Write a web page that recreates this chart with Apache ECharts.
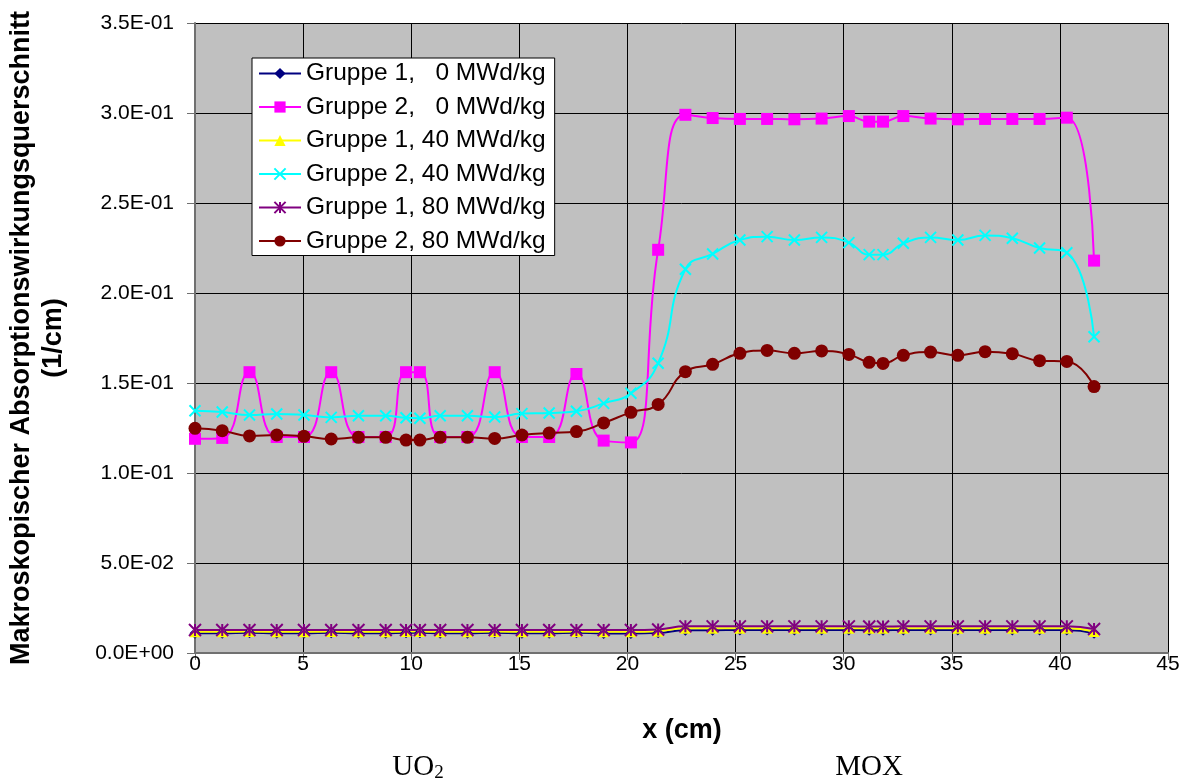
<!DOCTYPE html>
<html>
<head>
<meta charset="utf-8">
<script src="https://cdn.jsdelivr.net/npm/echarts@6/dist/echarts.min.js"></script>
<style>
html,body{margin:0;padding:0;background:#fff;}
#c{width:1193px;height:780px;}
</style>
</head>
<body>
<div id="c"></div>
<script>
// x positions (cm)
const xPos = [0, 1.26, 2.52, 3.78, 5.04, 6.30, 7.56, 8.82, 9.76, 10.40, 11.34, 12.60, 13.86, 15.12, 16.38, 17.64, 18.90, 20.16, 21.42,
  22.68, 23.94, 25.20, 26.46, 27.72, 28.98, 30.24, 31.18, 31.82, 32.76, 34.02, 35.28, 36.54, 37.80, 39.06, 40.32, 41.58];

const seriesNames = ['Gruppe 1,   0 MWd/kg', 'Gruppe 2,   0 MWd/kg', 'Gruppe 1, 40 MWd/kg', 'Gruppe 2, 40 MWd/kg', 'Gruppe 1, 80 MWd/kg', 'Gruppe 2, 80 MWd/kg'];

const g1_0 = [0.0110, 0.0110, 0.0113, 0.0110, 0.0110, 0.0113, 0.0110, 0.0110, 0.0113, 0.0113, 0.0110, 0.0110, 0.0113, 0.0110, 0.0110, 0.0113, 0.0109, 0.0109, 0.0112,
  0.0127, 0.0127, 0.0128, 0.0128, 0.0128, 0.0128, 0.0128, 0.0127, 0.0127, 0.0128, 0.0128, 0.0128, 0.0128, 0.0128, 0.0128, 0.0128, 0.0110];
const g2_0 = [0.119, 0.1195, 0.156, 0.120, 0.120, 0.156, 0.120, 0.120, 0.156, 0.156, 0.120, 0.120, 0.156, 0.120, 0.120, 0.155, 0.118, 0.117, 0.224,
  0.299, 0.2972, 0.2967, 0.2967, 0.2965, 0.2969, 0.2983, 0.2952, 0.2952, 0.2983, 0.2969, 0.2965, 0.2967, 0.2967, 0.2967, 0.2974, 0.218];
const g1_40 = [0.0118, 0.0118, 0.0119, 0.0118, 0.0118, 0.0119, 0.0118, 0.0118, 0.0119, 0.0119, 0.0118, 0.0118, 0.0119, 0.0118, 0.0118, 0.0119, 0.0118, 0.0118, 0.0121,
  0.0138, 0.0138, 0.0138, 0.0138, 0.0138, 0.0138, 0.0138, 0.0137, 0.0137, 0.0138, 0.0138, 0.0138, 0.0138, 0.0138, 0.0138, 0.0138, 0.0119];
const g2_40 = [0.1346, 0.1339, 0.1322, 0.1328, 0.1322, 0.1309, 0.1318, 0.1318, 0.1307, 0.1304, 0.1318, 0.1318, 0.1311, 0.1330, 0.1333, 0.1343, 0.1387, 0.1443, 0.161,
  0.2132, 0.2217, 0.2294, 0.2313, 0.2294, 0.2309, 0.2280, 0.2213, 0.2213, 0.2276, 0.2309, 0.2294, 0.2320, 0.2304, 0.2250, 0.2224, 0.1757];
const g1_80 = [0.0128, 0.0128, 0.0128, 0.0128, 0.0128, 0.0128, 0.0128, 0.0128, 0.0128, 0.0128, 0.0128, 0.0128, 0.0128, 0.0128, 0.0128, 0.0128, 0.0128, 0.0128, 0.0131,
  0.0148, 0.0148, 0.0148, 0.0148, 0.0148, 0.0148, 0.0148, 0.0147, 0.0147, 0.0148, 0.0148, 0.0148, 0.0148, 0.0148, 0.0148, 0.0148, 0.0133];
const g2_80 = [0.1248, 0.1235, 0.1206, 0.1211, 0.1204, 0.1189, 0.1198, 0.1198, 0.1183, 0.1183, 0.1198, 0.1198, 0.1192, 0.1211, 0.1222, 0.1230, 0.1278, 0.1337, 0.1381,
  0.1563, 0.1604, 0.1665, 0.1681, 0.1665, 0.1678, 0.1659, 0.1615, 0.1609, 0.1654, 0.1672, 0.1654, 0.1674, 0.1663, 0.1624, 0.1620, 0.1480];

const yTitle = 'Makroskopischer Absorptionswirkungsquerschnitt\n(1/cm)';
const xTitle = 'x (cm)';

function pairs(ys) { return xPos.map((x, i) => [x, ys[i]]); }
function fmtE(v) {
  const s = Number(v).toExponential(1);
  const parts = s.split('e');
  let n = parseInt(parts[1], 10);
  const sign = n < 0 ? '-' : '+';
  n = Math.abs(n);
  return parts[0] + 'E' + sign + (n < 10 ? '0' : '') + n;
}

const FONT = '"Liberation Sans", Arial, sans-serif';
const SMOOTH = 0.5;

function mk(name, data, color, symbol, size, extra) {
  const s = {
    name: name, type: 'line', data: pairs(data), smooth: SMOOTH,
    symbol: symbol, symbolSize: size, showSymbol: true,
    lineStyle: { color: color, width: 2 },
    itemStyle: { color: color, borderWidth: 0 },
    emphasis: { disabled: true }
  };
  return Object.assign(s, extra || {});
}

const chart = echarts.init(document.getElementById('c'), null, { renderer: 'canvas' });
chart.setOption({
  animation: false,
  backgroundColor: '#ffffff',
  grid: { left: 195, right: 25, top: 23, bottom: 127, show: true, backgroundColor: '#C0C0C0', borderWidth: 0, containLabel: false, outerBoundsMode: 'none' },
  legend: {
    show: true, orient: 'vertical', left: 252, top: 58,
    backgroundColor: '#ffffff', borderColor: '#000000', borderWidth: 1, borderRadius: 0,
    padding: [3, 9, 2, 6], itemGap: 8.5, itemWidth: 42, itemHeight: 14,
    textStyle: { fontFamily: FONT, fontSize: 24.5, color: '#000', lineHeight: 24 },
    data: seriesNames
  },
  xAxis: {
    type: 'value', min: 0, max: 45, interval: 5,
    axisLine: { show: true, onZero: false, lineStyle: { color: '#707070', width: 2 } },
    axisTick: { show: true, length: 7, lineStyle: { color: '#707070', width: 1 } },
    axisLabel: { fontFamily: FONT, fontSize: 21, color: '#000', margin: 1 },
    splitLine: { show: true, lineStyle: { color: '#000', width: 1 } }
  },
  yAxis: {
    type: 'value', min: 0, max: 0.35, interval: 0.05,
    axisLine: { show: true, onZero: false, lineStyle: { color: '#707070', width: 2 } },
    axisTick: { show: true, length: 8, lineStyle: { color: '#707070', width: 1 } },
    axisLabel: { fontFamily: FONT, fontSize: 21, color: '#000', margin: 21, formatter: fmtE },
    splitLine: { show: true, lineStyle: { color: '#000', width: 1 } }
  },
  graphic: [
    { type: 'text', x: 38, y: 338, rotation: Math.PI / 2,
      style: { text: yTitle, font: 'bold 27px ' + FONT, fill: '#000', align: 'center', verticalAlign: 'middle', lineHeight: 32 } },
    { type: 'text', x: 682, y: 731,
      style: { text: xTitle, font: 'bold 27px ' + FONT, fill: '#000', align: 'center', verticalAlign: 'middle' } },
    { type: 'text', x: 418, y: 767,
      style: { text: '{a|UO}{b|2}', align: 'center', verticalAlign: 'middle',
        rich: { a: { fontFamily: '"Liberation Serif", "Times New Roman", serif', fontSize: 29, fill: '#000', color: '#000' },
                b: { fontFamily: '"Liberation Serif", "Times New Roman", serif', fontSize: 19, fill: '#000', color: '#000', padding: [12, 0, 0, 0] } } } },
    { type: 'text', x: 869, y: 767,
      style: { text: 'MOX', font: '29px "Liberation Serif", "Times New Roman", serif', fill: '#000', align: 'center', verticalAlign: 'middle' } }
  ],
  series: [
    mk(seriesNames[0], g1_0, '#000080', 'diamond', 11),
    mk(seriesNames[1], g2_0, '#FF00FF', 'rect', 12),
    mk(seriesNames[2], g1_40, '#FFFF00', 'triangle', 11),
    mk(seriesNames[3], g2_40, '#00FFFF', 'path://M0,0L10,10M10,0L0,10', 11,
       { itemStyle: { color: '#00FFFF', borderColor: '#00FFFF', borderWidth: 2 } }),
    mk(seriesNames[4], g1_80, '#800080', 'path://M5,0L5,10M0,0L10,10M10,0L0,10', 12,
       { itemStyle: { color: '#800080', borderColor: '#800080', borderWidth: 2 } }),
    mk(seriesNames[5], g2_80, '#800000', 'circle', 13)
  ]
});
</script>
</body>
</html>
